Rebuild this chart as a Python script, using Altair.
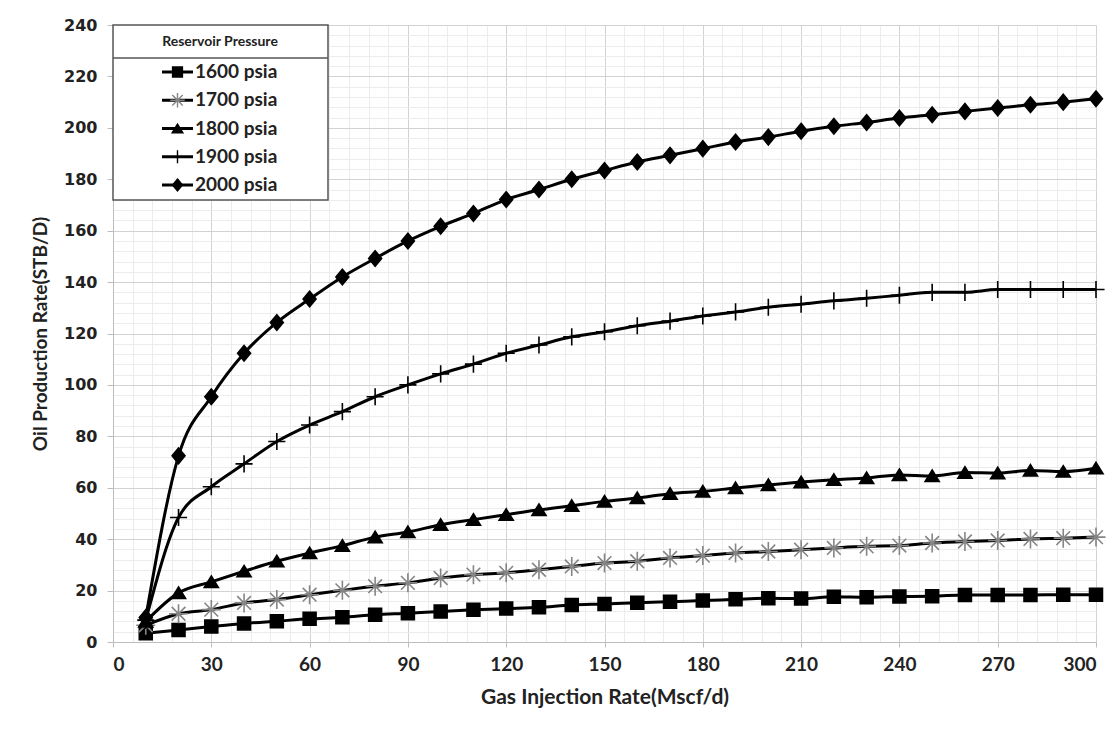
import altair as alt
import pandas as pd

# ---------------- data ----------------
gas_rate = [10, 20, 30, 40, 50, 60, 70, 80, 90, 100, 110, 120, 130, 140, 150,
            160, 170, 180, 190, 200, 210, 220, 230, 240, 250, 260, 270, 280, 290, 300]

p1600 = [3.4, 4.7, 6.0, 7.2, 8.1, 9.0, 9.6, 10.6, 11.2, 11.9, 12.5, 13.0, 13.5, 14.4, 14.8,
         15.3, 15.7, 16.1, 16.6, 17.0, 16.9, 17.6, 17.4, 17.7, 17.8, 18.3, 18.3, 18.3, 18.4, 18.4]
p1700 = [6.5, 11.0, 12.6, 15.2, 16.5, 18.4, 20.1, 21.7, 23.0, 24.9, 26.2, 26.9, 28.1, 29.4, 30.7,
         31.4, 32.7, 33.6, 34.6, 35.2, 35.9, 36.6, 37.2, 37.5, 38.5, 39.1, 39.5, 40.1, 40.4, 40.8]
p1800 = [8.0, 19.1, 23.4, 27.5, 31.4, 34.6, 37.5, 40.8, 42.8, 45.6, 47.6, 49.5, 51.4, 53.0, 54.7,
         56.0, 57.7, 58.6, 59.9, 61.1, 62.2, 63.1, 63.8, 65.0, 64.6, 65.9, 65.7, 66.7, 66.3, 67.6]
p1900 = [8.5, 48.4, 60.4, 69.3, 78.0, 84.4, 89.6, 95.4, 100.0, 104.3, 108.1, 112.3, 115.5, 118.7, 120.7,
         123.0, 124.8, 126.8, 128.4, 130.2, 131.4, 132.7, 133.7, 134.9, 136.0, 136.0, 137.1, 137.1, 137.1, 137.1]
p2000 = [9.5, 72.4, 95.4, 112.3, 124.3, 133.4, 142.0, 149.2, 156.0, 161.7, 166.7, 172.1, 176.0, 180.0, 183.4,
         186.7, 189.3, 191.9, 194.5, 196.4, 198.7, 200.6, 202.1, 203.8, 205.1, 206.4, 207.7, 209.0, 210.0, 211.3]

series_names = ["1600 psia", "1700 psia", "1800 psia", "1900 psia", "2000 psia"]
series_values = [p1600, p1700, p1800, p1900, p2000]

x_ticks = [0, 30, 60, 90, 120, 150, 180, 210, 240, 270, 300]
y_ticks = [0, 20, 40, 60, 80, 100, 120, 140, 160, 180, 200, 220, 240]
x_minor = list(range(0, 301, 6))
y_minor = list(range(0, 241, 4))

rows = []
for name, vals in zip(series_names, series_values):
    for xv, yv in zip(gas_rate, vals):
        rows.append({"rate": xv, "oil": yv, "series": name})
df = pd.DataFrame(rows)
legend_df = pd.DataFrame({"series": series_names})
one = pd.DataFrame({"k": [0]})

# ---------------- styles ----------------
FONT = "Lato"
shape_paths = [
    "M-0.68,-0.68L0.68,-0.68L0.68,0.68L-0.68,0.68Z",                       # square
    "M-1,0L1,0M0,-1L0,1M-0.72,-0.72L0.72,0.72M-0.72,0.72L0.72,-0.72",        # asterisk
    "M0,-0.62L0.74,0.58L-0.74,0.58Z",                                       # triangle
    "M-0.9,0L0.9,0M0,-0.9L0,0.9",                                           # plus
    "M0,-0.82L0.68,0L0,0.82L-0.68,0Z",                                      # diamond
]
fill_range = ["black", "transparent", "black", "transparent", "black"]
stroke_range = ["black", "#858585", "black", "black", "black"]

shape_enc = alt.Shape("series:N", scale=alt.Scale(domain=series_names, range=shape_paths), legend=None)
fill_enc = alt.Fill("series:N", scale=alt.Scale(domain=series_names, range=fill_range), legend=None)
stroke_enc = alt.Stroke("series:N", scale=alt.Scale(domain=series_names, range=stroke_range), legend=None)

x_scale = alt.Scale(domain=[0, 300], nice=False, zero=False)
y_scale = alt.Scale(domain=[0, 240], nice=False)

# ---------------- minor grid layer ----------------
grid = alt.Chart(df).mark_point(opacity=0).encode(
    x=alt.X("rate:Q", scale=x_scale,
            axis=alt.Axis(values=x_minor, grid=True, gridColor="#ececec", gridWidth=1,
                          labels=False, ticks=False, domain=False, title=None, orient="bottom")),
    y=alt.Y("oil:Q", scale=y_scale,
            axis=alt.Axis(values=y_minor, grid=True, gridColor="#ececec", gridWidth=1,
                          labels=False, ticks=False, domain=False, title=None, orient="left")),
)

# ---------------- main layer ----------------
x_enc = alt.X("rate:Q", scale=x_scale,
              axis=alt.Axis(values=x_ticks, grid=True, gridColor="#d2d2d2", gridWidth=1,
                            domainColor="#bdbdbd", tickColor="#bdbdbd", tickSize=5,
                            labelFont=FONT, labelFontSize=19, labelFontWeight="bold",
                            labelColor="#222", labelPadding=8,
                            title="Gas Injection Rate(Mscf/d)", titleFont=FONT,
                            titleFontSize=21, titleFontWeight="bold", titleColor="#222",
                            titlePadding=12, orient="bottom"))
y_enc = alt.Y("oil:Q", scale=y_scale,
              axis=alt.Axis(values=y_ticks, grid=True, gridColor="#d2d2d2", gridWidth=1,
                            domainColor="#bdbdbd", tickColor="#bdbdbd", tickSize=6,
                            labelFont="DejaVu Sans", labelFontSize=16, labelFontWeight="bold",
                            labelColor="#222", labelPadding=10,
                            title="Oil Production Rate(STB/D)", titleFont=FONT,
                            titleFontSize=19, titleFontWeight="bold", titleColor="#222",
                            titlePadding=13, orient="left"))

lines = alt.Chart(df).mark_line(color="black", strokeWidth=3, interpolate="monotone").encode(
    x=x_enc, y=y_enc, detail="series:N")
points = alt.Chart(df).mark_point(filled=True, opacity=1, size=361, strokeWidth=1.6).encode(
    x=x_enc, y=y_enc, shape=shape_enc, fill=fill_enc, stroke=stroke_enc)
main = alt.layer(lines, points)

# ---------------- legend layer ----------------
leg_y = alt.Y("series:N", scale=alt.Scale(type="point", domain=series_names, range=[47, 160], padding=0),
              axis=None)
box = alt.Chart(one).mark_rect(fill="white", stroke="#555", strokeWidth=1.5).encode(
    x=alt.value(0), x2=alt.value(215), y=alt.value(0), y2=alt.value(175))
sep = alt.Chart(one).mark_rule(color="#555", strokeWidth=1.5).encode(
    x=alt.value(0), x2=alt.value(215), y=alt.value(33))
ttl = alt.Chart(one).mark_text(font=FONT, fontSize=14, fontWeight="bold", color="#222",
                               align="center", baseline="middle").encode(
    x=alt.value(107), y=alt.value(17), text=alt.value("Reservoir Pressure"))
leg_rule = alt.Chart(legend_df).mark_rule(color="black", strokeWidth=3).encode(
    x=alt.value(49), x2=alt.value(80), y=leg_y)
leg_pts = alt.Chart(legend_df).mark_point(filled=True, opacity=1, size=210, strokeWidth=1.4).encode(
    x=alt.value(64.5), y=leg_y, shape=shape_enc, fill=fill_enc, stroke=stroke_enc)
leg_txt = alt.Chart(legend_df).mark_text(font=FONT, fontSize=19, fontWeight="bold", color="#222",
                                         align="left", baseline="middle").encode(
    x=alt.value(82), y=leg_y, text="series:N")
legend = alt.layer(box, sep, ttl, leg_rule, leg_pts, leg_txt)

chart = alt.layer(grid, main, legend).resolve_scale(x="independent", y="independent").properties(
    width=983, height=617,
    padding={"left": 113, "top": 25, "right": 22, "bottom": 92},
    autosize=alt.AutoSizeParams(type="none"),
    background="white",
).configure_view(stroke=None)

chart.save("out.html", embed_options={"renderer": "svg", "actions": False})
